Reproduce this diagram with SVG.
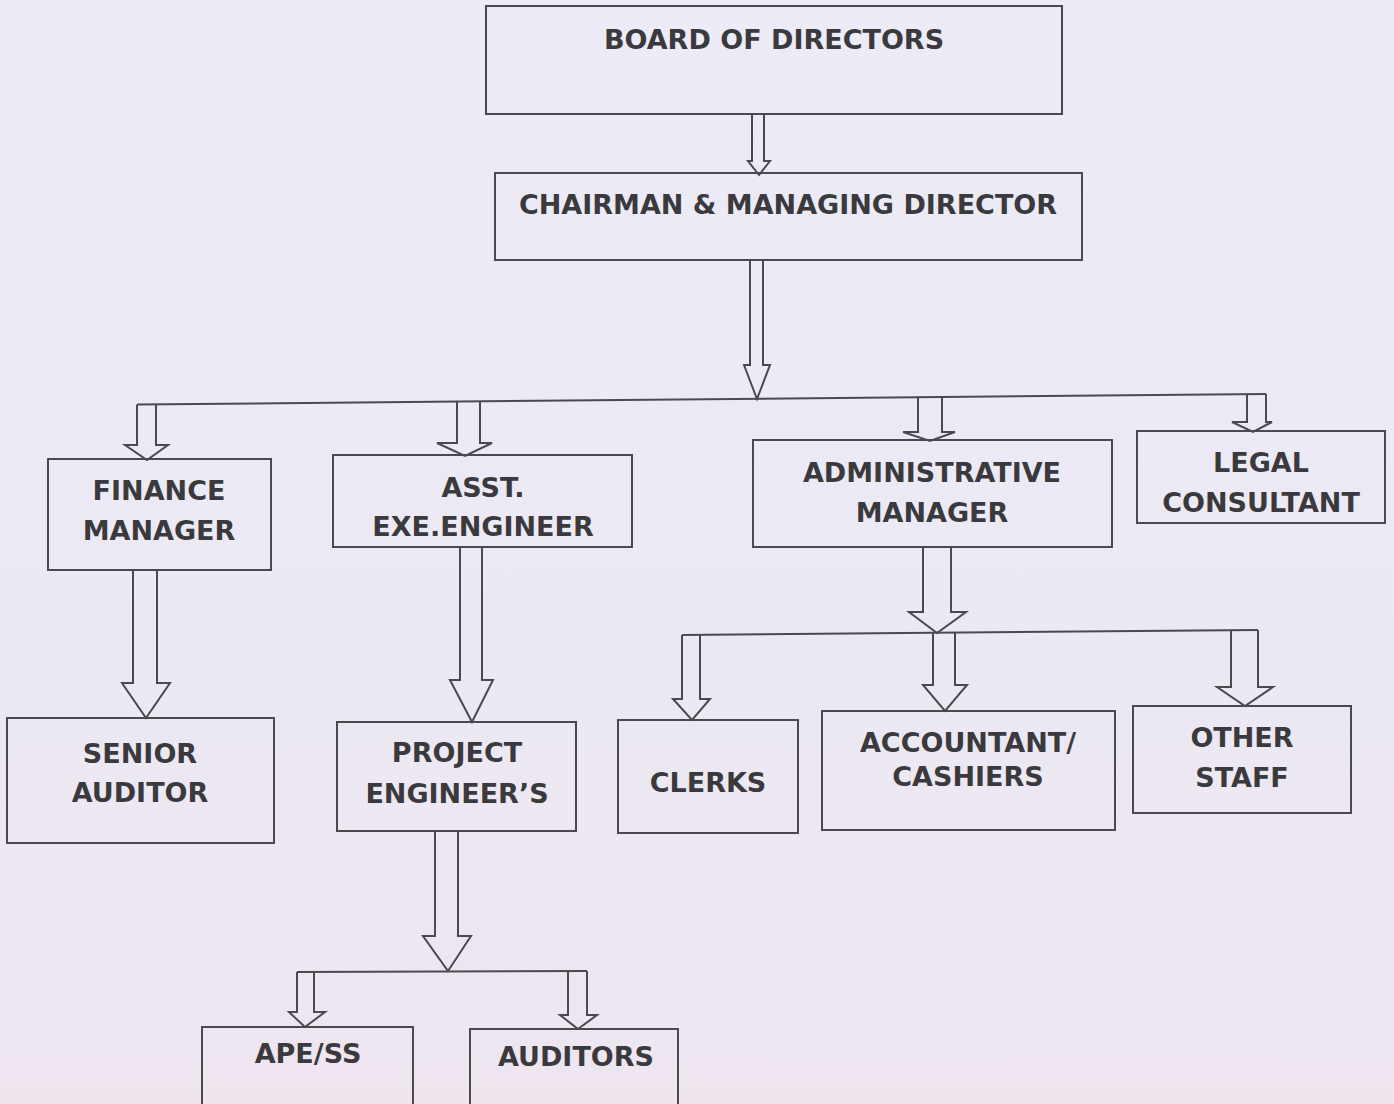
<svg xmlns="http://www.w3.org/2000/svg" width="1394" height="1104" viewBox="0 0 1394 1104">
<defs>
<linearGradient id="bg" x1="0" y1="0" x2="0" y2="1">
<stop offset="0" stop-color="#ecebf6"/>
<stop offset="0.6" stop-color="#ece9f3"/>
<stop offset="1" stop-color="#eee5ef"/>
</linearGradient>
<style>
.box{fill:none;stroke:#4a4a4e;stroke-width:2}
.arr{fill:none;stroke:#4a4a4e;stroke-width:2;stroke-linejoin:miter}
.t{font-family:"DejaVu Sans",Verdana,sans-serif;font-weight:bold;font-size:27px;fill:#3a3a3e;text-anchor:middle}
</style>
</defs>
<rect x="0" y="0" width="1394" height="1104" fill="url(#bg)"/>
<g id="connectors">
<path class="arr" d="M752,114 V161 H748 L759,175 L770,161 H764 V114"/>
<path class="arr" d="M750,260 V365 H744 L757,399 L770,365 H763 V260"/>
<path class="arr" d="M137,404.5 L1266,394"/>
<path class="arr" d="M137,404.5 V445 H125 L147,460 L168,445 H156 V404.3"/>
<path class="arr" d="M457,401.5 V443 H437 L465,456 L492,443 H480 V401.3"/>
<path class="arr" d="M918,397.2 V432 H903 L930,441 L955,432 H942 V397"/>
<path class="arr" d="M1247,394.2 V422 H1232 L1253,432 L1272,422 H1266 V394"/>
<path class="arr" d="M133,570 V683 H122 L146,718 L170,683 H157 V570"/>
<path class="arr" d="M460,547 V680 H450 L472,722 L493,680 H482 V547"/>
<path class="arr" d="M923,547 V612 H909 L937,633 L966,612 H951 V547"/>
<path class="arr" d="M682,635 L1258,630"/>
<path class="arr" d="M682,635 V699 H673 L692,720 L710,699 H700 V634.8"/>
<path class="arr" d="M933,632.8 V685 H923 L945,711 L967,685 H955 V632.6"/>
<path class="arr" d="M1231,630.2 V687 H1217 L1245,706 L1273,687 H1258 V630"/>
<path class="arr" d="M435,831 V936 H423 L448,971 L471,936 H458 V831"/>
<path class="arr" d="M297,972 L587,971"/>
<path class="arr" d="M297,972 V1012 H289 L305,1027 L325,1012 H314 V972"/>
<path class="arr" d="M568,971 V1015 H560 L578,1029 L597,1015 H587 V971"/>
</g>
<g id="board"><rect class="box" x="486" y="6" width="576" height="108"/><text class="t" x="774" y="49">BOARD OF DIRECTORS</text></g>
<g id="chairman"><rect class="box" x="495" y="173" width="587" height="87"/><text class="t" x="788" y="214">CHAIRMAN &amp; MANAGING DIRECTOR</text></g>
<g id="finance"><rect class="box" x="48" y="459" width="223" height="111"/><text class="t" x="159" y="500">FINANCE</text><text class="t" x="159" y="540">MANAGER</text></g>
<g id="asst"><rect class="box" x="333" y="455" width="299" height="92"/><text class="t" x="483" y="497">ASST.</text><text class="t" x="483" y="536">EXE.ENGINEER</text></g>
<g id="admin"><rect class="box" x="753" y="440" width="359" height="107"/><text class="t" x="932" y="482">ADMINISTRATIVE</text><text class="t" x="932" y="522">MANAGER</text></g>
<g id="legal"><rect class="box" x="1137" y="431" width="248" height="92"/><text class="t" x="1261" y="472">LEGAL</text><text class="t" x="1261" y="512">CONSULTANT</text></g>
<g id="senior"><rect class="box" x="7" y="718" width="267" height="125"/><text class="t" x="140" y="763">SENIOR</text><text class="t" x="140" y="802">AUDITOR</text></g>
<g id="project"><rect class="box" x="337" y="722" width="239" height="109"/><text class="t" x="457" y="762">PROJECT</text><text class="t" x="457" y="803">ENGINEER’S</text></g>
<g id="clerks"><rect class="box" x="618" y="720" width="180" height="113"/><text class="t" x="708" y="792">CLERKS</text></g>
<g id="accountant"><rect class="box" x="822" y="711" width="293" height="119"/><text class="t" x="968" y="752">ACCOUNTANT/</text><text class="t" x="968" y="786">CASHIERS</text></g>
<g id="other"><rect class="box" x="1133" y="706" width="218" height="107"/><text class="t" x="1242" y="747">OTHER</text><text class="t" x="1242" y="787">STAFF</text></g>
<g id="ape"><rect class="box" x="202" y="1027" width="211" height="90"/><text class="t" x="308" y="1063">APE/SS</text></g>
<g id="auditors"><rect class="box" x="470" y="1029" width="208" height="90"/><text class="t" x="576" y="1066">AUDITORS</text></g>
</svg>
